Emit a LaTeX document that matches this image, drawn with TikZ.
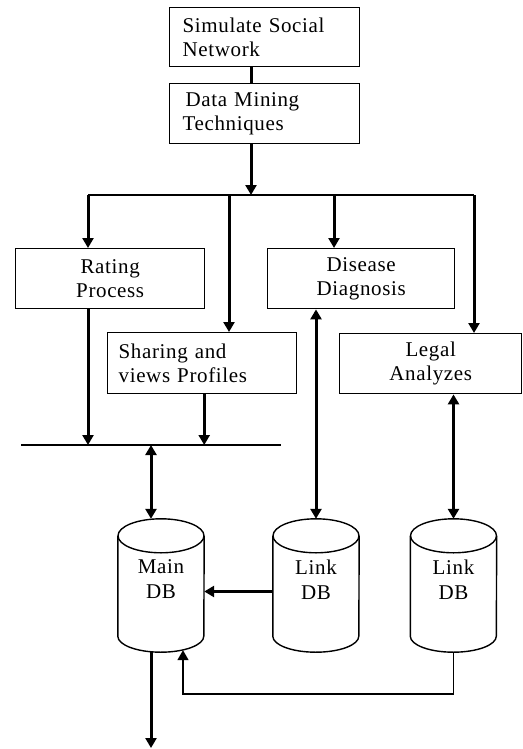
\documentclass[tikz,border=0pt]{standalone}
\usepackage{fontspec}
\setmainfont[LetterSpace=3]{Liberation Serif}
\usetikzlibrary{arrows.meta,calc}
\newcommand\drawcyl[1]{%
  \draw[dbline] ([yshift=-17pt]#1.north) ellipse[x radius=43pt, y radius=17pt];
  \draw[dbline] ([yshift=-17pt]#1.north west) -- ([yshift=16pt]#1.south west)
    arc[start angle=180, end angle=360, x radius=43pt, y radius=16pt]
    -- ([yshift=-17pt]#1.north east);
}
\begin{document}
\begin{tikzpicture}[x=1pt,y=-1pt,
  box/.style={draw, line width=1.4pt, anchor=north west, inner ysep=0pt,
    minimum height=60pt, font=\fontsize{21}{23.5}\selectfont},
  dbnode/.style={minimum width=86pt, minimum height=133pt, inner sep=0pt},
  dbtext/.style={align=center, font=\fontsize{21}{25}\selectfont, yshift=6pt},
  dbline/.style={line width=1.4pt},
  arr/.style={line width=3pt, -{Triangle[length=10pt,width=11pt]}},
  darr/.style={line width=3pt, {Triangle[length=10pt,width=11pt]}-{Triangle[length=10pt,width=11pt]}},
  thinarr/.style={line width=1.6pt, -{Triangle[length=10pt,width=11pt]}},
  busline/.style={line width=2.2pt},
  thinline/.style={line width=1.6pt},
]
\useasboundingbox (0,0) rectangle (522,749);

% boxes
\node[box, inner xsep=13pt, text width=164pt, align=left, minimum height=59pt] (sim) at (169,7) {Simulate Social\\Network};
\node[box, inner xsep=13pt, text width=164pt, align=left] (dm) at (169,83) {\hspace{3pt}Data Mining\\Techniques};
\node[box, inner xsep=5pt, text width=179pt, align=center] (rating) at (15,248) {Rating\\Process};
\node[box, inner xsep=5pt, text width=177pt, align=center] (disease) at (267,248) {Disease\\Diagnosis};
\node[box, inner xsep=11pt, text width=167pt, align=left, minimum height=61pt] (sharing) at (107,332) {Sharing and\\views Profiles};
\node[box, inner xsep=5pt, text width=172pt, align=center] (legal) at (339,333) {Legal\\Analyzes};

% databases
\node[dbnode, label={[dbtext]center:{Main\\DB}}] (maindb) at (161,585.5) {};
\node[dbnode, label={[dbtext]center:{Link\\DB}}] (link1) at (316,585.5) {};
\node[dbnode, label={[dbtext]center:{Link\\DB}}] (link2) at (453.5,585.5) {};
\drawcyl{maindb}
\drawcyl{link1}
\drawcyl{link2}

% helper coordinates
\coordinate (split) at (251,195);
\coordinate (b1) at (88,195);
\coordinate (b2) at (229,195);
\coordinate (b3) at (334,195);
\coordinate (b4) at (474,195);
\coordinate (l1) at (21,445);
\coordinate (l2) at (281,445);
\coordinate (m1) at (151,445);
\coordinate (ret) at (183,694);
\coordinate (out) at (151,748);

% connectors
\draw[line width=3pt] (sim.south -| split) -- (dm.north -| split);
\draw[arr] (dm.south -| split) -- (split);
\draw[busline] (b1) -- (b4);
\draw[arr] (b1) -- (b1 |- rating.north);
\draw[arr] (b2) -- (b2 |- sharing.north);
\draw[arr] (b3) -- (b3 |- disease.north);
\draw[arr] (b4) -- (b4 |- legal.north);
\draw[thinline] (l1) -- (l2);
\draw[arr] (b1 |- rating.south) -- (b1 |- l1);
\draw[arr] ([xshift=2pt]sharing.south) -- ($(sharing.south |- l1)+(2,0)$);
\draw[darr] (m1) -- (m1 |- maindb.north);
\draw[darr] (link1.north) -- (link1.north |- disease.south);
\draw[darr] (link2.north) -- (link2.north |- legal.south);
\draw[arr] ([yshift=-6pt]link1.west) -- ([yshift=-6pt]maindb.east);
\draw[thinarr] (link2.south) |- (ret) -- ($(ret |- maindb.south)+(0,-2)$);
\draw[arr] (m1 |- maindb.south) -- (out);
\end{tikzpicture}
\end{document}
